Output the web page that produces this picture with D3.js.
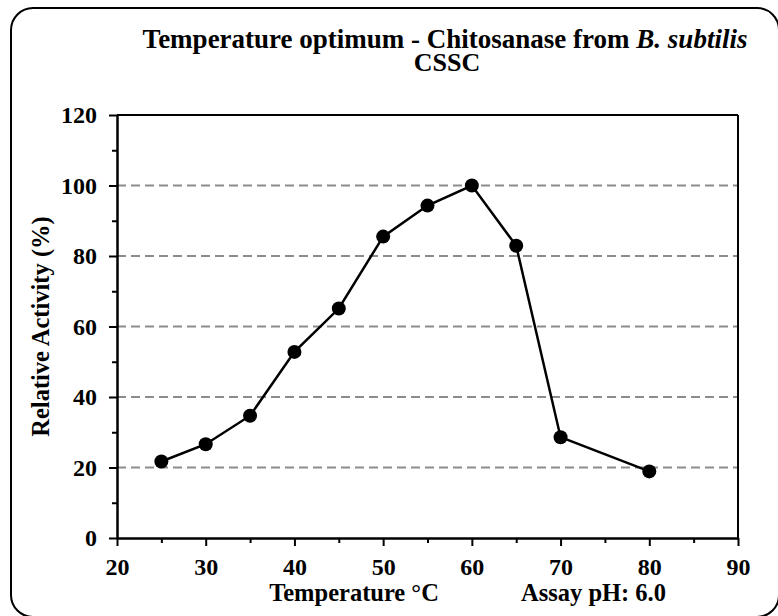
<!DOCTYPE html>
<html lang="en">

<head>
    <meta charset="UTF-8">
    <title>Temperature optimum</title>
    <script src="https://cdn.jsdelivr.net/npm/d3@7"></script>
    <style>
        body { margin: 0; background: #fff; }
        text { font-family: 'Liberation Serif', 'Times New Roman', serif; font-weight: bold; }
    </style>
</head>

<body>
    <svg width="778" height="616" id="mainsvg"></svg>
</body>
<script>
    const temps = [25, 30, 35, 40, 45, 50, 55, 60, 65, 70, 80]
    const activity = [21.7, 26.6, 34.7, 52.8, 65.1, 85.5, 94.3, 100, 82.9, 28.6, 18.9]
    const xTicks = [20, 30, 40, 50, 60, 70, 80, 90]
    const yTicks = [0, 20, 40, 60, 80, 100, 120]
    const gridValues = [20, 40, 60, 80, 100]

    const data = temps.map((t, i) => ({ t: t, v: activity[i] }))

    const svg = d3.select('#mainsvg')
    const margin = { top: 115, right: 40, bottom: 78, left: 117 }
    const innerWidth = 738 - margin.left
    const innerHeight = 538 - margin.top

    // outer rounded frame
    svg.append('rect')
        .attr('x', 11).attr('y', 8).attr('width', 768).attr('height', 609)
        .attr('rx', 22).attr('fill', 'none').attr('stroke', '#000').attr('stroke-width', 2)

    const g = svg.append('g').attr('transform', `translate(${margin.left},${margin.top})`)

    const xScale = d3.scaleLinear().domain([20, 90]).range([0, innerWidth])
    const yScale = d3.scaleLinear().domain([0, 120]).range([innerHeight, 0])

    // dashed grid
    g.selectAll('.grid').data(gridValues).enter().append('line')
        .attr('class', 'grid')
        .attr('x1', 0).attr('x2', innerWidth)
        .attr('y1', d => yScale(d)).attr('y2', d => yScale(d))
        .attr('stroke', '#8c8c8c').attr('stroke-width', 2).attr('stroke-dasharray', '9,5')

    // top and right frame of plot
    g.append('line').attr('x1', 0).attr('x2', innerWidth).attr('y1', 0).attr('y2', 0)
        .attr('stroke', '#000').attr('stroke-width', 2)
    g.append('line').attr('x1', innerWidth).attr('x2', innerWidth).attr('y1', 0).attr('y2', innerHeight)
        .attr('stroke', '#000').attr('stroke-width', 2)

    // minor ticks
    const yMinor = d3.axisLeft(yScale).tickValues(d3.range(10, 120, 20)).tickSize(5).tickFormat('')
    const xMinor = d3.axisBottom(xScale).tickValues(d3.range(25, 90, 10)).tickSize(5).tickFormat('')
    g.append('g').call(yMinor).call(a => a.select('.domain').remove())
        .selectAll('line').attr('stroke-width', 2)
    g.append('g').attr('transform', `translate(0,${innerHeight})`).call(xMinor)
        .call(a => a.select('.domain').remove())
        .selectAll('line').attr('stroke-width', 2)

    const yAxis = d3.axisLeft(yScale).tickValues(yTicks).tickSize(8).tickSizeOuter(0).tickPadding(12)
    const xAxis = d3.axisBottom(xScale).tickValues(xTicks).tickSize(8).tickSizeOuter(0).tickPadding(12)

    const ya = g.append('g').call(yAxis)
    const xa = g.append('g').attr('transform', `translate(0,${innerHeight})`).call(xAxis)
    ;[ya, xa].forEach(a => {
        a.select('.domain').attr('stroke-width', 2.5)
        a.selectAll('.tick line').attr('stroke-width', 2)
        a.selectAll('.tick text').attr('font-size', 24).attr('fill', '#000')
            .attr('font-family', "'Liberation Serif', serif").attr('font-weight', 'bold')
    })

    // line + markers
    const line = d3.line().x(d => xScale(d.t)).y(d => yScale(d.v))
    g.append('path').datum(data).attr('d', line)
        .attr('fill', 'none').attr('stroke', '#000').attr('stroke-width', 2.5)
    g.selectAll('.dot').data(data).enter().append('circle')
        .attr('class', 'dot')
        .attr('cx', d => xScale(d.t)).attr('cy', d => yScale(d.v))
        .attr('r', 7).attr('fill', '#000')

    // titles
    const title = svg.append('text').attr('x', 445).attr('y', 48)
        .attr('text-anchor', 'middle').attr('font-size', 27)
    title.append('tspan').text('Temperature optimum - Chitosanase from ')
    title.append('tspan').attr('font-style', 'italic').text('B. subtilis')
    svg.append('text').attr('x', 447).attr('y', 71)
        .attr('text-anchor', 'middle').attr('font-size', 26).text('CSSC')

    svg.append('text').attr('x', 354).attr('y', 601)
        .attr('text-anchor', 'middle').attr('font-size', 24.5).text('Temperature °C')
    svg.append('text').attr('x', 521).attr('y', 601)
        .attr('font-size', 24.5).text('Assay pH: 6.0')

    svg.append('text')
        .attr('transform', `translate(49,${margin.top + innerHeight / 2}) rotate(-90)`)
        .attr('text-anchor', 'middle').attr('font-size', 24.5).text('Relative Activity (%)')
</script>

</html>
